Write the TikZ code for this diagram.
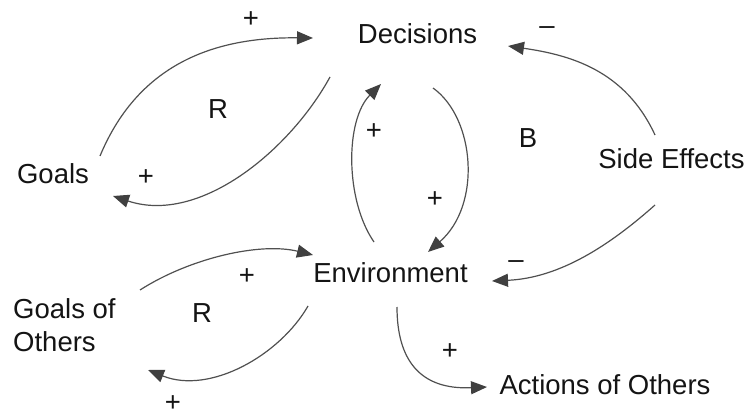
\documentclass[tikz,border=0pt]{standalone}
\usepackage{fontspec}
\setmainfont{Liberation Sans}
\usetikzlibrary{arrows.meta,calc}
\definecolor{inkline}{RGB}{80,80,80}
\definecolor{inkhead}{RGB}{64,64,64}
\definecolor{inktext}{RGB}{20,20,20}
\begin{document}
\begin{tikzpicture}[x=1pt,y=-1pt,
  every node/.style={inner sep=0pt,text=inktext,font=\fontsize{27.5}{33}\selectfont},
  var/.style={anchor=base},
  sign/.style={},
  loopname/.style={},
  link/.style={draw=inkline,line width=1.2pt,
    -{Triangle[length=16pt,width=13pt,color=inkhead]}}]
\useasboundingbox (0,0) rectangle (749,414);

% variables
\node[var] (dec) at (417.5,44) {Decisions};
\node[var] (goals) at (53,183) {Goals};
\node[var] (side) at (671.5,169) {Side Effects};
\node[var] (env) at (390.5,282) {Environment};
\node[anchor=north west,align=left] (goo) at (13,298) {Goals of\\Others};
\node[var] (act) at (605,394) {Actions of Others};

% causal links
\draw[link] ($(goals.base)+(47,-27)$) .. controls +(40,-96) and +(-93,-1) .. ($(dec.base)+(-104.5,-6)$);
\draw[link] ($(dec.base)+(-87.5,33)$) .. controls +(-40,73) and +(87,29) .. ($(goals.base)+(60,13)$);
\draw[link] ($(env.base)+(-16.5,-40)$) .. controls +(-29,-42) and +(-36,36) .. ($(dec.base)+(-36.5,40)$);
\draw[link] ($(dec.base)+(15.5,44)$) .. controls +(42,30) and +(54,-47) .. ($(env.base)+(37.5,-30)$);
\draw[link] ($(side.base)+(-16.5,-34)$) .. controls +(-30,-65) and +(62,9) .. ($(dec.base)+(90.5,2)$);
\draw[link] ($(side.base)+(-16.5,36)$) .. controls +(-45,40) and +(68,-3) .. ($(env.base)+(101.5,-1)$);
\draw[link] ($(goo.north west)+(127,-8)$) .. controls +(50,-32) and +(-53,-13) .. ($(env.base)+(-77.5,-27)$);
\draw[link] ($(env.base)+(-82.5,24)$) .. controls +(-28,49) and +(62,25) .. ($(goo.north west)+(135,72)$);
\draw[link] ($(env.base)+(6.5,25)$) .. controls +(0,53) and +(-67,3) .. ($(act.base)+(-118,-7)$);

% link polarities
\node[sign] (p1) at (251,20) {+};
\node[sign] (p2) at (146,178) {+};
\node[sign] (p3) at (374,132) {+};
\node[sign] (p4) at (435,200) {+};
\node[sign] (m1) at (547,31) {–};
\node[sign] (m2) at (516,265) {–};
\node[sign] (p5) at (247,277) {+};
\node[sign] (p6) at (173,404) {+};
\node[sign] (p7) at (450,352) {+};

% loop markers
\node[loopname] (r1) at (218,109) {R};
\node[loopname] (b1) at (528,138) {B};
\node[loopname] (r2) at (202,313) {R};
\end{tikzpicture}
\end{document}
